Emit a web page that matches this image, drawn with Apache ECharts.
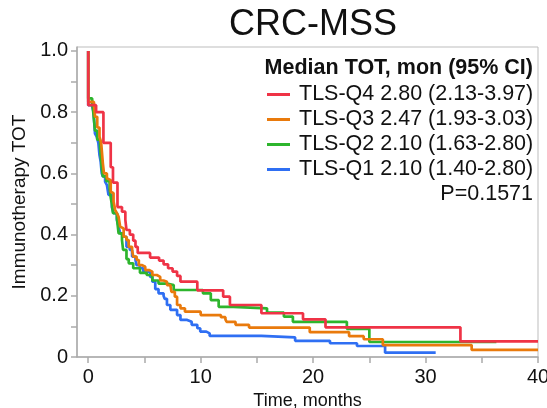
<!DOCTYPE html>
<html>
<head>
<meta charset="utf-8">
<script src="https://cdn.jsdelivr.net/npm/echarts@6/dist/echarts.min.js"></script>
<style>
html,body{margin:0;padding:0;background:#fff;}
#chart{width:547px;height:408px;}
</style>
</head>
<body>
<div id="chart"></div>
<script>
// ---- data ----
var chartTitle = "CRC-MSS";
var legendHeader = "Median TOT, mon (95% CI)";
var pValueText = "P=0.1571";
var seriesNames = [
  "TLS-Q4 2.80 (2.13-3.97)",
  "TLS-Q3 2.47 (1.93-3.03)",
  "TLS-Q2 2.10 (1.63-2.80)",
  "TLS-Q1 2.10 (1.40-2.80)"
];
var xTickValues = [0, 5, 10, 15, 20, 25, 30, 35, 40];
var xLabelValues = [0, 10, 20, 30, 40];
var yTickValues = [0, 0.1, 0.2, 0.3, 0.4, 0.5, 0.6, 0.7, 0.8, 0.9, 1.0];
var yLabelValues = [0, 0.2, 0.4, 0.6, 0.8, 1.0];

// Kaplan-Meier steps: [time (months), survival]
var q4 = [[0,1],[0,0.823],[0.7,0.80],[1.35,0.70],[2.0,0.62],[2.2,0.57],[2.6,0.49],[3.0,0.475],[3.3,0.448],[3.4,0.415],[3.7,0.40],[4.0,0.38],[4.2,0.36],[4.4,0.34],[5.5,0.325],[6.3,0.315],[6.7,0.303],[7.1,0.29],[7.5,0.279],[7.9,0.265],[8.2,0.246],[9.7,0.218],[12.0,0.197],[12.6,0.17],[15.4,0.143],[19.1,0.123],[21.1,0.097],[33.1,0.051],[40,0.051]];
var q3 = [[0,1],[0,0.834],[0.5,0.83],[0.6,0.785],[0.8,0.75],[1.0,0.72],[1.15,0.70],[1.3,0.633],[1.4,0.60],[1.66,0.584],[1.8,0.578],[2.0,0.54],[2.1,0.535],[2.25,0.508],[2.4,0.48],[2.55,0.47],[2.7,0.458],[2.84,0.426],[3.0,0.42],[3.15,0.393],[3.4,0.382],[3.6,0.36],[3.9,0.35],[4.0,0.328],[4.3,0.317],[4.5,0.30],[4.8,0.295],[5.07,0.284],[5.4,0.279],[5.7,0.268],[6.1,0.262],[6.4,0.25],[6.7,0.246],[7.0,0.235],[7.3,0.23],[7.4,0.213],[7.7,0.197],[7.9,0.17],[8.2,0.159],[8.6,0.148],[10.0,0.137],[11.8,0.13],[12.2,0.123],[12.3,0.115],[13.1,0.105],[14.3,0.096],[19.7,0.081],[23.2,0.068],[24.5,0.058],[26.2,0.039],[34.1,0.023],[40,0.023]];
var q2 = [[0,1],[0,0.845],[0.35,0.835],[0.5,0.78],[0.6,0.74],[0.8,0.71],[1.05,0.685],[1.2,0.62],[1.3,0.59],[1.6,0.575],[1.9,0.55],[2.0,0.52],[2.1,0.50],[2.2,0.47],[2.55,0.453],[2.7,0.404],[3.0,0.382],[3.1,0.35],[3.4,0.32],[3.6,0.306],[4.0,0.29],[4.6,0.275],[5.2,0.268],[5.7,0.25],[6.25,0.24],[7.0,0.235],[7.6,0.219],[10.2,0.208],[10.9,0.186],[11.6,0.164],[12.9,0.159],[15.9,0.145],[17.4,0.132],[18.2,0.115],[23.0,0.092],[25.0,0.049],[36.3,0.049]];
var q1 = [[0,1],[0,0.823],[0.33,0.818],[0.47,0.80],[0.6,0.73],[0.75,0.72],[0.9,0.70],[1.0,0.66],[1.1,0.64],[1.2,0.60],[1.3,0.59],[1.5,0.573],[1.66,0.562],[1.8,0.53],[2.1,0.49],[2.25,0.47],[2.55,0.448],[2.7,0.426],[2.84,0.404],[3.15,0.393],[3.4,0.36],[3.7,0.35],[3.9,0.328],[4.2,0.317],[4.3,0.30],[4.6,0.29],[4.9,0.279],[5.5,0.262],[5.7,0.246],[5.96,0.222],[6.25,0.208],[6.7,0.20],[6.8,0.19],[7.0,0.17],[7.3,0.154],[7.9,0.137],[8.2,0.121],[8.8,0.115],[9.2,0.105],[9.7,0.094],[9.96,0.083],[10.5,0.077],[10.8,0.069],[15.4,0.064],[18.4,0.053],[21.5,0.045],[23.9,0.036],[26.4,0.014],[30.9,0.014]];

var colors = ["#ef3346", "#e97a0c", "#2db52d", "#2f6ff3"];
var seriesData = [q4, q3, q2, q1];

// ---- chart ----
var FONT = "'Liberation Sans', Arial, Helvetica, sans-serif";
var chart = echarts.init(document.getElementById('chart'), null, {renderer: 'canvas'});

var series = [];
for (var i = seriesData.length - 1; i >= 0; i--) {
  series.push({
    name: seriesNames[i],
    type: 'line',
    step: 'end',
    data: seriesData[i],
    showSymbol: false,
    symbol: 'none',
    lineStyle: {width: 2.7, color: colors[i]},
    itemStyle: {color: colors[i]},
    z: 10 + (seriesData.length - i)
  });
}

var option = {
  animation: false,
  backgroundColor: '#fff',
  grid: {left: 77, right: 9, top: 47, bottom: 51, show: true, borderColor: '#bdbdbd', borderWidth: 1,
         backgroundColor: 'transparent', containLabel: false, outerBoundsMode: 'none'},
  legend: {
    data: seriesNames,
    orient: 'vertical',
    left: 262,
    top: 77,
    itemGap: 0,
    itemWidth: 23,
    itemHeight: 3,
    icon: 'rect',
    textStyle: {fontFamily: FONT, fontSize: 21.5, color: '#111', lineHeight: 25, padding: [0, 0, 0, 4]}
  },
  xAxis: {
    type: 'value',
    min: -1,
    max: 40,
    name: 'Time, months',
    nameLocation: 'middle',
    nameGap: 27,
    nameTextStyle: {fontFamily: FONT, fontSize: 18, color: '#111'},
    axisLine: {show: true, onZero: false, lineStyle: {color: '#aaaaaa', width: 1.5}},
    axisTick: {show: true, length: 6, lineStyle: {color: '#aaaaaa', width: 1.5}, customValues: xTickValues},
    axisLabel: {fontFamily: FONT, fontSize: 20, color: '#111', margin: 10, customValues: xLabelValues, hideOverlap: false},
    splitLine: {show: false}
  },
  yAxis: {
    type: 'value',
    min: 0,
    max: 1.013,
    name: 'Immunotherapy TOT',
    nameLocation: 'middle',
    nameGap: 47,
    nameTextStyle: {fontFamily: FONT, fontSize: 19, color: '#111'},
    axisLine: {show: true, onZero: false, lineStyle: {color: '#aaaaaa', width: 1.5}},
    axisTick: {show: true, length: 6, lineStyle: {color: '#aaaaaa', width: 1.5}, customValues: yTickValues},
    axisLabel: {
      fontFamily: FONT, fontSize: 20, color: '#111', margin: 9, customValues: yLabelValues, hideOverlap: false,
      formatter: function (v) { return v === 0 ? '0' : v.toFixed(1); }
    },
    splitLine: {show: false}
  },
  graphic: [
    {type: 'text', x: 313, y: 25, z: 100,
     style: {text: chartTitle, font: '36px ' + FONT, fill: '#111', textAlign: 'center', textVerticalAlign: 'middle'}},
    {type: 'text', x: 533, y: 68, z: 100,
     style: {text: legendHeader, font: 'bold 21.5px ' + FONT, fill: '#111', textAlign: 'right', textVerticalAlign: 'middle'}},
    {type: 'text', x: 533, y: 194, z: 100,
     style: {text: pValueText, font: '21.5px ' + FONT, fill: '#111', textAlign: 'right', textVerticalAlign: 'middle'}}
  ],
  series: series
};
chart.setOption(option);
</script>
</body>
</html>
